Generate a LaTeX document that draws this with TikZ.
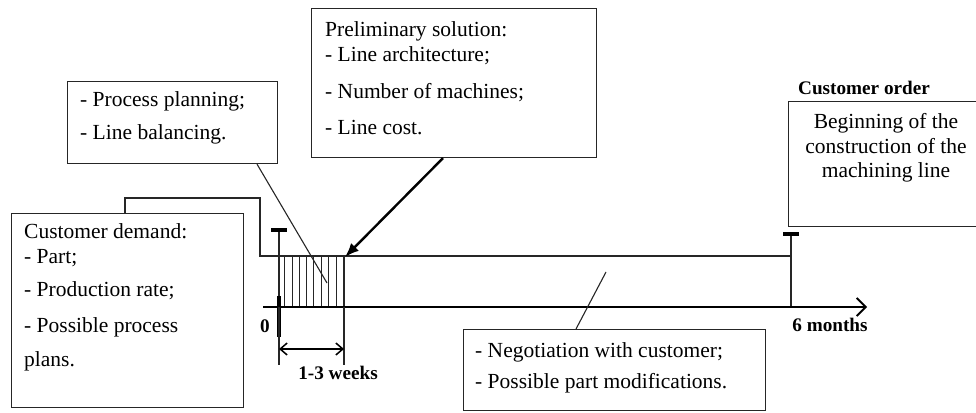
\documentclass[tikz,border=0pt]{standalone}
\usepackage{fontspec}
\setmainfont{Liberation Serif}
\usetikzlibrary{arrows.meta}
\newcommand{\bodytxt}{\fontsize{21.5}{24.5}\selectfont}
\newcommand{\lbltxt}{\fontsize{19.2}{22}\selectfont\bfseries}
\begin{document}
\begin{tikzpicture}[x=1pt,y=-1pt,
  box/.style={draw=black!85, line width=1.1pt, fill=white, anchor=north west, inner sep=0pt},
  txt/.style={anchor=north west, inner sep=0pt, align=left, font=\bodytxt},
  lbl/.style={inner sep=0pt, font=\lbltxt},
  thin/.style={draw=black!85, line width=1.1pt},
  tickbar/.style={line width=3.2pt, draw=black}]
\useasboundingbox (0,0) rectangle (976,412);
\clip (0,0) rectangle (976,412);

% coordinates
\coordinate (env0) at (125,213);
\coordinate (env1) at (125,198);
\coordinate (env2) at (260,198);
\coordinate (env3) at (260,256);
\coordinate (env4) at (791,256);
\coordinate (t0top) at (279,230);
\coordinate (t0bot) at (279,307);
\coordinate (t6top) at (791,234);
\coordinate (t6bot) at (791,307);
\coordinate (axS) at (263,307);
\coordinate (axE) at (867,307);
\coordinate (hR) at (344,256);
\coordinate (hRb) at (344,307);

% envelope (back sheet and top line)
\draw[thin] (env0) -- (env1) -- (env2) -- (env3) -- (env4);

% hatched area
\foreach \x in {284,292,299,306,313,321,328,336} {
  \draw[thin, line width=0.9pt] (\x,256) -- (\x,307);
}
\draw[thin] (hR) -- (hRb);

% time markers
\draw[thin] (t0top) -- (t0bot);
\draw[tickbar] (271,230) -- (287,230);
\draw[thin] (t6top) -- (t6bot);
\draw[tickbar] (783,234) -- (799,234);

% axis
\draw[line width=2.2pt, -{Straight Barb[length=9pt,width=18pt,line width=1.8pt]}] (axS) -- (axE);
\draw[line width=3.2pt] (279,296) -- (279,337);

% dimension 1-3 weeks
\coordinate (d0) at (279,365);
\coordinate (d1) at (344,365);
\draw[thin] (t0bot) -- (d0);
\draw[thin] (hRb) -- (d1);
\coordinate (a0) at (279,349);
\coordinate (a1) at (344,349);
\draw[line width=1.5pt, {Straight Barb[length=7pt,width=12pt]}-{Straight Barb[length=7pt,width=12pt]}] (a0) -- (a1);

% labels
\node[lbl] (zero) at (265,326) {0};
\node[lbl] (weeks) at (338,373) {1-3 weeks};
\node[lbl] (months) at (830,325) {6 months};
\node[lbl] (order) at (864,88) {Customer order};

% boxes
\node[box, minimum width=232pt, minimum height=194pt] (cd) at (11,213) {};
\node[txt] (cdt) at (24,223.5) {Customer demand:\\- Part;\\[9pt]- Production rate;\\[11pt]- Possible process\\[10pt]plans.};

\node[box, minimum width=210pt, minimum height=82pt] (pp) at (67,81) {};
\node[txt] (ppt) at (80,91.5) {- Process planning;\\[8.5pt]- Line balancing.};

\node[box, minimum width=285pt, minimum height=149pt] (ps) at (311,8) {};
\node[txt] (pst) at (325,21.5) {Preliminary solution:\\- Line architecture;\\[12.5pt]- Number of machines;\\[11.5pt]- Line cost.};

\node[box, minimum width=200pt, minimum height=125pt] (bg) at (788,101) {};
\node[txt, anchor=north, align=center] (bgt) at (886,113.5) {Beginning of the\\construction of the\\machining line};

\node[box, minimum width=302pt, minimum height=81pt] (ng) at (463,329) {};
\node[txt] (ngt) at (475,342.5) {- Negotiation with customer;\\[6.5pt]- Possible part modifications.};

% connectors
\coordinate (ppend) at (327,283);
\draw[thin] (pp.south west) ++(190,0) coordinate (ppst) -- (ppend);
\coordinate (psend) at (345,257);
\draw[line width=2.4pt, -{Latex[length=14pt,width=11pt]}] ([xshift=132pt]ps.south west) -- (psend);
\coordinate (ngend) at (606,272);
\draw[thin] ([xshift=113pt]ng.north west) -- (ngend);
\end{tikzpicture}
\end{document}
